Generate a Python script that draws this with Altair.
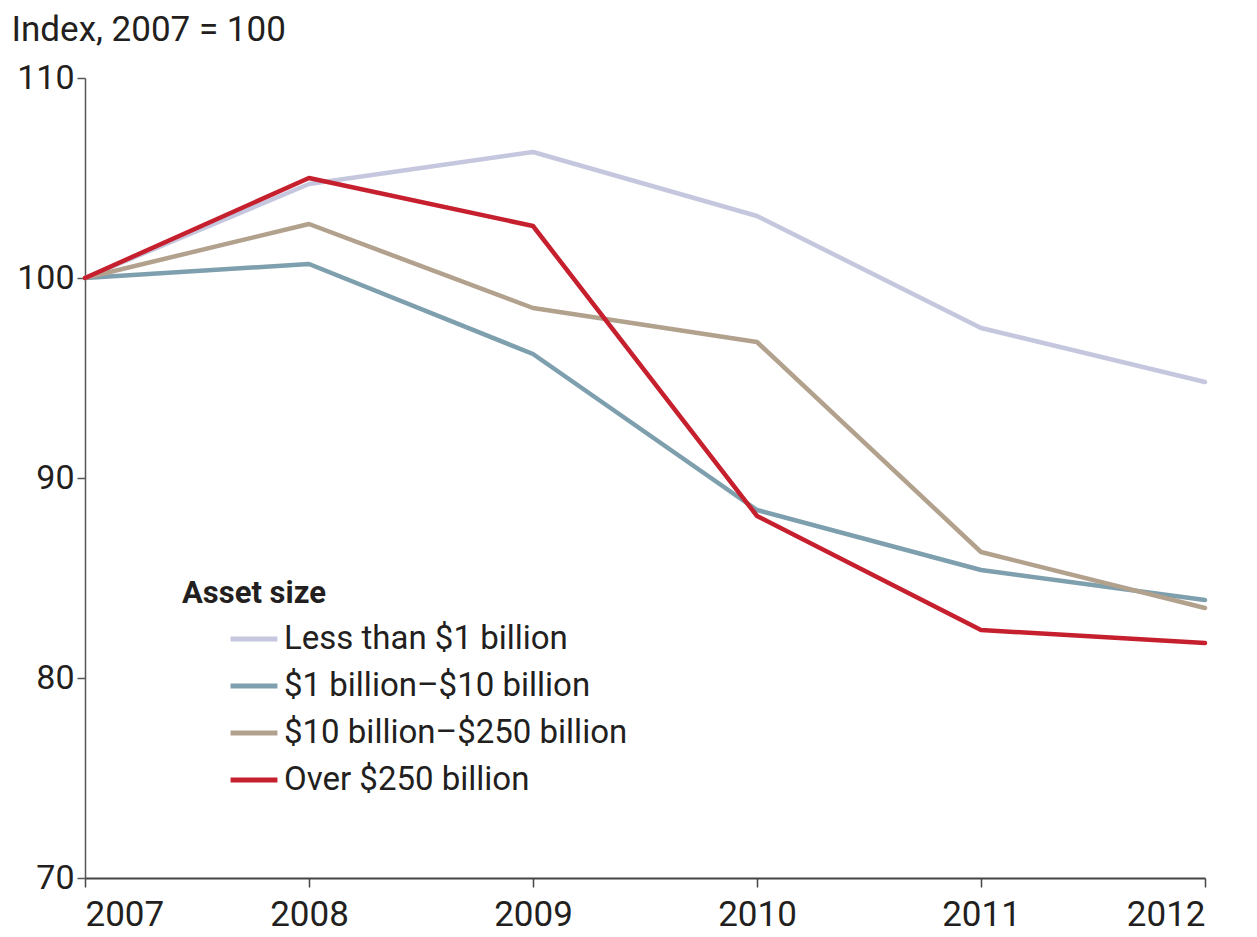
import altair as alt
import pandas as pd

years = [2007, 2008, 2009, 2010, 2011, 2012]
series_names = [
    "Less than $1 billion",
    "$1 billion–$10 billion",
    "$10 billion–$250 billion",
    "Over $250 billion",
]
less_1b = [100, 104.7, 106.3, 103.1, 97.5, 94.8]
b1_10 = [100, 100.7, 96.2, 88.4, 85.4, 83.9]
b10_250 = [100, 102.7, 98.5, 96.8, 86.3, 83.5]
over_250 = [100, 105.0, 102.6, 88.1, 82.4, 81.75]
colors = ["#C5C7DF", "#7E9FAD", "#B2A18D", "#C61F2D"]

rows = []
for name, vals in zip(series_names, [less_1b, b1_10, b10_250, over_250]):
    for y, v in zip(years, vals):
        rows.append({"year": y, "value": v, "series": name})
df = pd.DataFrame(rows)

FONT = "Roboto"
TXT = "#231F20"

lines = alt.Chart(df).mark_line(strokeWidth=4.5, strokeCap="round", strokeJoin="round").encode(
    x=alt.X("year:Q", scale=alt.Scale(domain=[2007, 2012], nice=False, zero=False),
            axis=alt.Axis(values=years, format="d", title=None, grid=False,
                          tickSize=9, labelPadding=10, labelFontSize=35,
                          labelFont=FONT, labelColor=TXT, domainColor="#444",
                          tickColor="#444", domainWidth=2, tickWidth=1.5)),
    y=alt.Y("value:Q", scale=alt.Scale(domain=[70, 110], nice=False, zero=False),
            axis=alt.Axis(values=[70, 80, 90, 100, 110], title="Index, 2007 = 100",
                          titleAngle=0, titleAlign="left", titleBaseline="alphabetic",
                          titleX=-74, titleY=-38, titleFont=FONT, titleFontSize=35,
                          titleFontWeight="normal", titleColor=TXT,
                          grid=False, tickSize=8, labelPadding=3, labelFontSize=34,
                          labelFont=FONT, labelColor=TXT, domainColor="#555",
                          tickColor="#555", domainWidth=1.5, tickWidth=1.5)),
    color=alt.Color("series:N", sort=series_names,
                    scale=alt.Scale(domain=series_names, range=colors),
                    legend=alt.Legend(title=None, orient="none", legendX=143, legendY=535,
                                      symbolType="stroke", symbolSize=2200,
                                      symbolStrokeWidth=5, labelFont=FONT,
                                      labelFontSize=33, labelColor=TXT,
                                      rowPadding=4, labelOffset=4, labelLimit=600)),
)

legend_title = alt.Chart(pd.DataFrame({"t": ["Asset size"]})).mark_text(
    font=FONT, fontSize=31, fontWeight="bold", align="left", baseline="alphabetic",
    color=TXT
).encode(x=alt.value(97), y=alt.value(525), text="t:N")

chart = alt.layer(lines, legend_title).properties(
    width=1120, height=800,
    background="white",
    autosize=alt.AutoSizeParams(type="none"),
    padding={"left": 77, "top": 70, "right": 40, "bottom": 58},
).configure_view(stroke=None, strokeWidth=0, strokeOpacity=0)

chart.save("out.html", embed_options={"renderer": "svg", "actions": False})
